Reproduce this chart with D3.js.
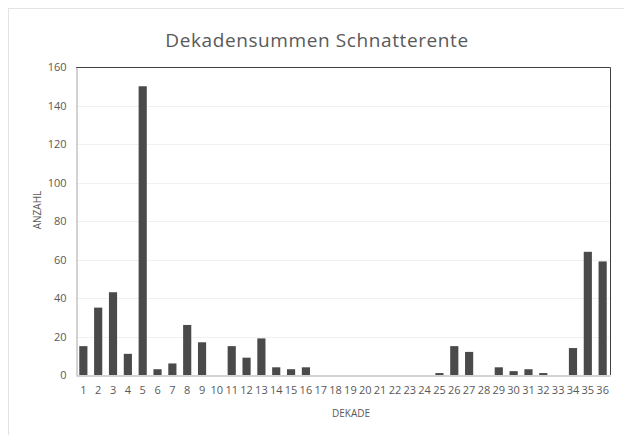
<!DOCTYPE html>
<html>
  <head>
    <title>Dekadensummen Schnatterente</title>
    <script src="https://d3js.org/d3.v7.min.js"></script>
    <style>
      body { margin: 0; background: #fff; }
      text { font-family: "Open Sans", sans-serif; fill: #595959; }
    </style>
  </head>
  <body>
    <div id="chart"></div>
    <script>
      // Data
      var dekaden = d3.range(1, 37).map(String);
      var anzahl = [15, 35, 43, 11, 150, 3, 6, 26, 17, 0,
                    15, 9, 19, 4, 3, 4, 0, 0, 0, 0,
                    0, 0, 0, 0, 1, 15, 12, 0, 4, 2,
                    3, 1, 0, 14, 64, 59];
      var yTicks = [0, 20, 40, 60, 80, 100, 120, 140, 160];

      var width = 624, height = 435;
      var m = { left: 76, right: 14, top: 67, bottom: 60 };

      var svg = d3.select("#chart")
        .append("svg")
        .attr("width", width)
        .attr("height", height);

      // chart frame
      svg.append("rect")
        .attr("x", 8.5).attr("y", 8.5)
        .attr("width", 640).attr("height", 440)
        .attr("fill", "none")
        .attr("stroke", "#e3e3e3");

      var x = d3.scaleBand()
        .domain(dekaden)
        .range([m.left, width - m.right])
        .paddingInner(0.45)
        .paddingOuter(0.22);

      var y = d3.scaleLinear()
        .domain([0, 160])
        .range([height - m.bottom, m.top]);

      // gridlines
      svg.append("g")
        .selectAll("line")
        .data(yTicks.slice(1, -1))
        .enter()
        .append("line")
        .attr("x1", m.left).attr("x2", width - m.right)
        .attr("y1", function(d) { return Math.round(y(d)) + 0.5; })
        .attr("y2", function(d) { return Math.round(y(d)) + 0.5; })
        .attr("stroke", "#f0f0f0");

      // top and right border of plot area
      svg.append("path")
        .attr("d", "M" + m.left + "," + (m.top + 0.5) + "H" + (width - m.right + 0.5) + "V" + (height - m.bottom))
        .attr("fill", "none")
        .attr("stroke", "#404040");

      // bars
      svg.selectAll(".bar")
        .data(anzahl)
        .enter()
        .append("rect")
        .attr("class", "bar")
        .attr("x", function(d, i) { return x(dekaden[i]); })
        .attr("y", function(d) { return y(d); })
        .attr("width", x.bandwidth())
        .attr("height", function(d) { return y(0) - y(d); })
        .attr("fill", "#4a4a4a");

      // y axis
      var yAxis = svg.append("g")
        .attr("transform", "translate(" + (m.left + 0.5) + ",0)")
        .call(d3.axisLeft(y).tickValues(yTicks).tickSize(0).tickPadding(10));
      yAxis.select(".domain").attr("stroke", "#a6a6a6");
      yAxis.selectAll("text").style("font-size", "11px").attr("fill", "#595959");

      // x axis
      var xAxis = svg.append("g")
        .attr("transform", "translate(0," + (y(0) + 0.5) + ")")
        .call(d3.axisBottom(x).tickSize(0).tickPadding(11));
      xAxis.select(".domain").attr("stroke", "#a6a6a6");
      xAxis.selectAll("text").style("font-size", "11px").attr("fill", "#595959");

      // titles
      svg.append("text")
        .attr("x", 317).attr("y", 47)
        .attr("text-anchor", "middle")
        .style("font-size", "19px")
        .style("letter-spacing", "0.6px")
        .text("Dekadensummen Schnatterente");

      svg.append("text")
        .attr("transform", "translate(41,210) rotate(-90)")
        .attr("text-anchor", "middle")
        .style("font-size", "10px")
        .text("ANZAHL");

      svg.append("text")
        .attr("x", 351).attr("y", 417)
        .attr("text-anchor", "middle")
        .style("font-size", "10px")
        .text("DEKADE");
    </script>
  </body>
</html>
